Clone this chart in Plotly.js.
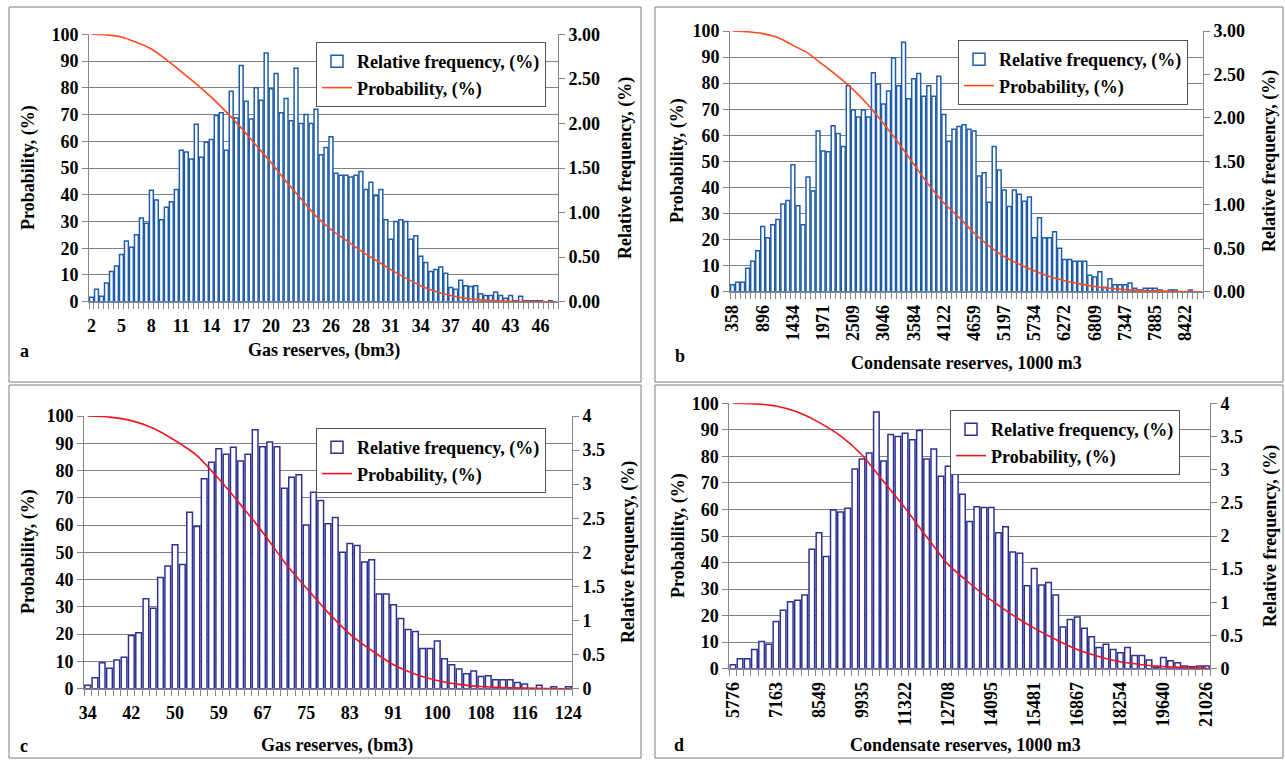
<!DOCTYPE html>
<html><head><meta charset="utf-8">
<script src="https://cdn.plot.ly/plotly-3.0.1.min.js"></script>
<style>html,body{margin:0;padding:0;background:#fff;} #chart{width:1285px;height:760px;}</style>
</head><body><div id="chart"></div>
<script>
// ---------- DATA ----------
// Panel a: gas reserves (bm3)
const labelsA = ['2','5','8','11','14','17','20','23','26','28','31','34','37','40','43','46'];
const relFreqA = [0.05,0.14,0.06,0.21,0.34,0.40,0.53,0.68,0.61,0.75,
  0.94,0.88,1.25,1.14,0.92,1.06,1.12,1.26,1.70,1.68,
  1.60,1.99,1.62,1.79,1.82,2.09,2.12,1.70,2.36,2.06,
  2.65,2.25,2.05,2.40,2.26,2.79,2.39,2.56,2.12,2.28,
  2.03,2.62,2.00,2.10,2.00,2.16,1.65,1.73,1.85,1.44,
  1.42,1.42,1.40,1.42,1.46,1.26,1.34,1.19,1.26,0.92,
  0.70,0.90,0.92,0.90,0.70,0.74,0.51,0.44,0.34,0.36,
  0.39,0.32,0.16,0.14,0.24,0.18,0.17,0.18,0.09,0.07,
  0.07,0.11,0.07,0.04,0.07,0.01,0.06,0.01,0.01,0.01,
  0.01,0,0.01,0];
const probA = [100,99.8,99,97,94.5,90.5,86,81.5,76.5,71,65,58.5,52,45,38.5,32,
  27,23,19,15.5,12,8.8,6,3.8,2.3,1.3,0.7,0.35,0.15,0.05,0,0];

// Panel b: condensate reserves, 1000 m3
const labelsB = ['358','896','1434','1971','2509','3046','3584','4122','4659','5197','5734','6272','6809','7347','7885','8422'];
const relFreqB = [0.08,0.11,0.11,0.27,0.35,0.47,0.75,0.62,0.77,0.83,
  1.01,1.05,1.46,0.99,0.77,1.32,1.16,1.85,1.62,1.61,
  1.91,1.82,1.67,2.37,2.09,2.01,2.09,2.01,2.52,2.39,
  2.16,2.31,2.69,2.37,2.87,2.22,2.45,2.51,2.25,2.37,
  2.25,2.48,2.04,1.73,1.87,1.90,1.92,1.87,1.85,1.33,
  1.37,1.03,1.67,1.40,1.17,0.98,1.17,1.12,1.04,1.09,
  0.62,0.85,0.62,0.62,0.69,0.50,0.37,0.37,0.35,0.35,
  0.35,0.19,0.17,0.23,0.05,0.15,0.08,0.08,0.08,0.10,
  0.04,0.02,0.04,0.04,0.04,0.02,0,0.02,0.02,0,
  0,0.02,0,0];
const probB = [100,99.7,99,97.5,94.5,91.5,87,82.5,77.5,71.5,64.5,57,49,41,34,28.5,
  22.5,17.5,13.5,10.5,8,5.8,4.2,3.0,2.0,1.3,0.8,0.5,0.3,0.15,0.05,0];

// Panel c: gas reserves (bm3)
const labelsC = ['34','42','50','59','67','75','83','91','100','108','116','124'];
const relFreqC = [0.05,0.16,0.38,0.30,0.42,0.46,0.78,0.82,1.32,1.18,
  1.63,1.80,2.11,1.82,2.59,2.38,3.08,3.32,3.52,3.44,
  3.54,3.34,3.44,3.80,3.55,3.62,3.55,2.94,3.10,3.14,
  2.40,2.88,2.76,2.42,2.51,2.00,2.13,2.10,1.86,1.89,
  1.39,1.39,1.23,1.03,0.87,0.84,0.59,0.59,0.70,0.44,
  0.35,0.29,0.22,0.26,0.18,0.19,0.13,0.13,0.13,0.09,
  0.07,0,0.05,0,0.03,0,0.03];
const probC = [100,99.6,98.3,95.5,91,85.5,77,67.5,57.5,46.5,37,28,20,14,8.8,5.3,3.0,1.6,0.8,0.4,0.2,0.1,0];

// Panel d: condensate reserves, 1000 m3
const labelsD = ['5776','7163','8549','9935','11322','12708','14095','15481','16867','18254','19640','21026'];
const relFreqD = [0.06,0.15,0.15,0.29,0.41,0.37,0.71,0.88,1.01,1.03,
  1.11,1.80,2.05,1.69,2.39,2.36,2.42,3.01,3.16,3.25,
  3.87,3.13,3.53,3.50,3.55,3.45,3.59,3.16,3.31,2.90,
  3.05,2.98,2.63,2.22,2.44,2.43,2.43,2.05,2.14,1.76,
  1.74,1.25,1.51,1.26,1.30,1.11,0.63,0.74,0.78,0.61,
  0.48,0.32,0.37,0.29,0.24,0.32,0.20,0.20,0.13,0.02,
  0.17,0.12,0.09,0.04,0.03,0.04,0.04];
const probD = [100,99.8,99,96.7,92.8,87.7,80.5,70.5,60.5,49.7,39.3,32.2,25.8,20.2,15.3,11,7.2,4.6,2.6,1.5,0.8,0.4,0.2];

const seriesNames = ['Relative frequency, (%)', 'Probability, (%)'];
const yTitleLeft = 'Probability, (%)';
const yTitleRight = 'Relative frequency, (%)';
const xTitles = ['Gas reserves, (bm3)', 'Condensate reserves, 1000 m3', 'Gas reserves, (bm3)', 'Condensate reserves, 1000 m3'];
const panelLetters = ['a','b','c','d'];

// ---------- LAYOUT ----------
const W = 1285, H = 760;
const FONT = 'Liberation Serif';
const fx = x => x / W, fy = y => 1 - y / H;
const seq = (n, s) => Array.from({length: n}, (_, i) => i * s);
const tf = (size) => ({family: FONT, size: size, color: '#000', weight: 'bold'});

const panels = [
  {rf: relFreqA, prob: probA, labels: labelsA, rfMax: 3, fmt: '.2f', barCol: '#1f5caa', lineCol: '#ff4a1c',
   x0: 89, x1: 558, yT: 34.3, yB: 301.7, rot: 0, leg: [316, 42], frame: [9, 7, 641, 382],
   tl: [28, 168], tr: [625, 168], tx: [324, 351], let: [18, 351]},
  {rf: relFreqB, prob: probB, labels: labelsB, rfMax: 3, fmt: '.2f', barCol: '#1f5caa', lineCol: '#ff4a1c',
   x0: 730, x1: 1203, yT: 31, yB: 291.7, rot: -90, leg: [958, 40], frame: [655, 7, 1283, 382],
   tl: [678, 161], tr: [1270, 161], tx: [966, 363], let: [673, 356]},
  {rf: relFreqC, prob: probC, labels: labelsC, rfMax: 4, fmt: '', barCol: '#2e3192', lineCol: '#f0141e',
   x0: 84, x1: 572, yT: 416, yB: 688.7, rot: 0, leg: [316, 428], frame: [9, 385, 641, 758],
   tl: [28, 552], tr: [628, 552], tx: [337, 745], let: [18, 746]},
  {rf: relFreqD, prob: probD, labels: labelsD, rfMax: 4, fmt: '', barCol: '#2e3192', lineCol: '#f0141e',
   x0: 729.3, x1: 1210, yT: 403.3, yB: 668.7, rot: -90, leg: [950, 410], frame: [655, 385, 1283, 758],
   tl: [678, 536], tr: [1270, 536], tx: [965, 745], let: [672, 745]}
];

const data = [];
const layout = {
  width: W, height: H, margin: {l: 0, r: 0, t: 0, b: 0},
  paper_bgcolor: '#fff', plot_bgcolor: 'rgba(0,0,0,0)',
  bargap: 0.22, showlegend: true, shapes: [], annotations: []
};
const AX = '#868686';
const TICK = 18, TITLE = 18;

panels.forEach((p, k) => {
  const xn = k === 0 ? '' : String(k + 1);
  const yR = 2 * k + 1, yL = 2 * k + 2;
  const yRn = yR === 1 ? '' : String(yR);
  const legName = k === 0 ? 'legend' : 'legend' + (k + 1);

  data.push({
    type: 'bar', x: seq(p.rf.length, 1), y: p.rf, xaxis: 'x' + xn, yaxis: 'y' + yRn,
    name: seriesNames[0], legend: legName,
    marker: {color: '#ffffff', line: {color: p.barCol, width: 1.5}}
  });
  data.push({
    type: 'scatter', mode: 'lines', x: seq(p.prob.length, 3), y: p.prob, xaxis: 'x' + xn, yaxis: 'y' + yL,
    name: seriesNames[1], legend: legName,
    line: {color: p.lineCol, width: 1.6, shape: 'spline', smoothing: 0.6}
  });

  layout['xaxis' + xn] = {
    domain: [fx(p.x0), fx(p.x1)], anchor: 'y' + yRn,
    range: [-0.5, p.rf.length - 0.5], tickmode: 'array',
    tickvals: seq(p.labels.length, 6), ticktext: p.labels, ticks: '', tickangle: p.rot,
    ticklabelstandoff: p.rot ? 5 : 8,
    showline: true, linecolor: AX, linewidth: 1, showgrid: false, zeroline: false,
    tickfont: tf(TICK), fixedrange: true,
    minor: {ticks: 'outside', ticklen: 6, tickcolor: AX, tickwidth: 1, tick0: 0.5, dtick: 1, showgrid: false}
  };
  layout['yaxis' + yRn] = {
    domain: [fy(p.yB), fy(p.yT)], anchor: 'x' + xn, side: 'right',
    range: [0, p.rfMax], dtick: 0.5, tick0: 0, tickformat: p.fmt,
    ticks: 'outside', ticklen: 6, tickcolor: AX, showline: true, linecolor: AX,
    showgrid: false, zeroline: false, tickfont: tf(TICK), fixedrange: true
  };
  layout['yaxis' + yL] = {
    overlaying: 'y' + yRn, anchor: 'x' + xn, side: 'left',
    range: [0, 100], dtick: 10, tick0: 0,
    ticks: 'outside', ticklen: 6, tickcolor: AX, showline: true, linecolor: AX,
    showgrid: true, gridcolor: '#808080', gridwidth: 1, zeroline: false,
    tickfont: tf(TICK), fixedrange: true
  };
  layout[legName] = {
    x: fx(p.leg[0]), y: fy(p.leg[1]), xanchor: 'left', yanchor: 'top',
    bgcolor: '#ffffff', bordercolor: '#555555', borderwidth: 1,
    font: tf(TICK), traceorder: 'normal', itemwidth: 30
  };
  layout.shapes.push({type: 'rect', xref: 'paper', yref: 'paper',
    x0: fx(p.frame[0]), x1: fx(p.frame[2]), y0: fy(p.frame[3]), y1: fy(p.frame[1]),
    line: {color: '#7f7f7f', width: 1}, fillcolor: 'rgba(0,0,0,0)', layer: 'below'});
  layout.annotations.push(
    {text: yTitleLeft, textangle: -90, x: fx(p.tl[0]), y: fy(p.tl[1]), xref: 'paper', yref: 'paper', showarrow: false, font: tf(TITLE), xanchor: 'center', yanchor: 'middle'},
    {text: yTitleRight, textangle: -90, x: fx(p.tr[0]), y: fy(p.tr[1]), xref: 'paper', yref: 'paper', showarrow: false, font: tf(TITLE), xanchor: 'center', yanchor: 'middle'},
    {text: xTitles[k], x: fx(p.tx[0]), y: fy(p.tx[1]), xref: 'paper', yref: 'paper', showarrow: false, font: tf(TITLE), xanchor: 'center', yanchor: 'middle'},
    {text: panelLetters[k], x: fx(p.let[0]), y: fy(p.let[1]), xref: 'paper', yref: 'paper', showarrow: false, font: tf(18), xanchor: 'left', yanchor: 'middle'}
  );
});

Plotly.newPlot('chart', data, layout, {staticPlot: true, displayModeBar: false});
</script>
</body></html>
